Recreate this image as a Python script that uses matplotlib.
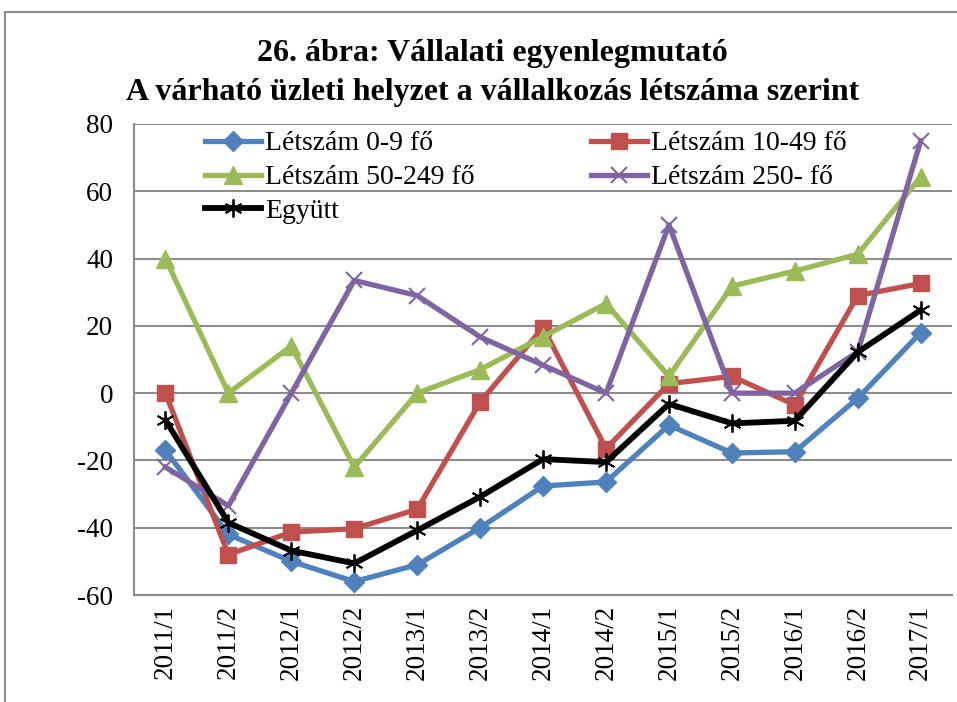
import matplotlib.pyplot as plt
from matplotlib.patches import Rectangle

plt.rcParams['font.family'] = ['Liberation Serif', 'DejaVu Serif']
plt.rcParams['axes.unicode_minus'] = False

periods = ['2011/1', '2011/2', '2012/1', '2012/2', '2013/1', '2013/2', '2014/1',
           '2014/2', '2015/1', '2015/2', '2016/1', '2016/2', '2017/1']
small = [-17, -42, -50, -56, -51, -40, -27.6, -26.4, -9.5, -17.8, -17.4, -1.5, 18]
mid = [0, -48, -41.3, -40.3, -34.5, -2.6, 19.5, -16.5, 2.8, 5, -3.5, 29, 32.6]
large = [40, 0, 14, -22, 0, 7, 16.8, 26.6, 5, 31.8, 36.3, 41.3, 64.3]
biggest = [-22, -33.5, 0, 33.5, 29, 16.7, 8.3, 0, 50, 0, 0, 12.3, 75]
together = [-8, -38.5, -46.8, -50.6, -40.8, -30.8, -19.6, -20.5, -3.2, -9, -8.2, 12.2, 24.7]

fig = plt.figure(figsize=(9.57, 7.02), dpi=100)
ax = fig.add_axes([0.140, 0.1524, 0.855, 0.671])

x = range(len(periods))
l1, = ax.plot(x, small, color='#4F81BD', lw=3.8, marker='D', ms=10.5, label='Létszám 0-9 fő')
l2, = ax.plot(x, mid, color='#C0504D', lw=3.8, marker='s', ms=11.5, label='Létszám 10-49 fő')
l3, = ax.plot(x, large, color='#9BBB59', lw=3.8, marker='^', ms=13.5, label='Létszám 50-249 fő')
l4, = ax.plot(x, biggest, color='#8064A2', lw=3.8, marker='x', ms=12, mew=1.5, label='Létszám 250- fő')
l5, = ax.plot(x, together, color='black', lw=4.2, marker=(6, 2, 0), ms=13, mew=1.3, label='Együtt')

ax.set_xlim(-0.5, len(periods) - 0.5)
ax.set_ylim(-60, 80)
ax.set_yticks(range(-60, 81, 20))
ax.set_xticks(list(x))
ax.set_xticklabels(periods, rotation=90)
ax.tick_params(length=0, labelsize=19.5)
ax.tick_params(axis='y', pad=15)
ax.tick_params(axis='x', pad=7)
ax.grid(axis='y', color='#8c8c8c', lw=1.5)
ax.set_axisbelow(True)
for s in ['top', 'right']:
    ax.spines[s].set_visible(False)
for s in ['left', 'bottom']:
    ax.spines[s].set_color('#8c8c8c')
    ax.spines[s].set_linewidth(1.5)

ax.legend([l1, l3, l5, l2, l4], [h.get_label() for h in [l1, l3, l5, l2, l4]],
          ncol=2, frameon=False, fontsize=20, loc='upper left',
          bbox_to_anchor=(0.087, 0.985), handlelength=2.0, handletextpad=0.15,
          columnspacing=4.2, labelspacing=0.3, borderaxespad=0, borderpad=0)

fig.text(0.515, 0.896, '26. ábra: Vállalati egyenlegmutató\nA várható üzleti helyzet a vállalkozás létszáma szerint',
         ha='center', va='center', fontsize=23, fontweight='bold', linespacing=1.45)

fig.patches.append(Rectangle((5 / 957, -0.05), 1.1, 1 - 12 / 702 + 0.05, transform=fig.transFigure,
                             fill=False, edgecolor='#8c8c8c', lw=1.5))

fig.savefig('out.png', dpi=100)
